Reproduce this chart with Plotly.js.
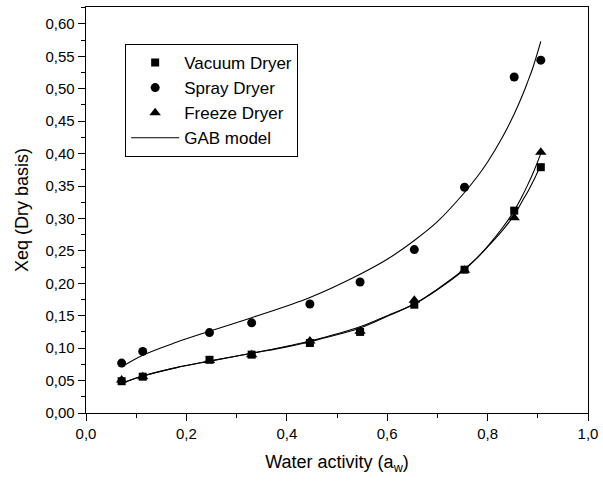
<!DOCTYPE html>
<html>
<head>
<meta charset="utf-8">
<script src="https://cdn.plot.ly/plotly-3.0.1.min.js"></script>
<style>html,body{margin:0;padding:0;background:#fff;}#chart{width:603px;height:481px;}</style>
</head>
<body>
<div id="chart"></div>
<script>
// Measured points (water activity vs equilibrium moisture, dry basis)
const aw = [0.071, 0.113, 0.246, 0.330, 0.446, 0.546, 0.654, 0.754, 0.853, 0.906];
const vacuum = [0.049, 0.056, 0.082, 0.090, 0.108, 0.125, 0.167, 0.221, 0.312, 0.379];
const spray = [0.077, 0.095, 0.124, 0.139, 0.168, 0.202, 0.252, 0.348, 0.518, 0.544];
const freeze = [0.051, 0.056, 0.081, 0.090, 0.111, 0.126, 0.174, 0.220, 0.301, 0.402];

// GAB model curves
const gabAw = [0.071, 0.113, 0.18, 0.246, 0.33, 0.40, 0.446, 0.546, 0.60, 0.654, 0.70, 0.754, 0.78, 0.80, 0.83, 0.853, 0.87, 0.88, 0.89, 0.906];
const gabSpray = [0.071, 0.089, 0.109, 0.126, 0.147, 0.165, 0.178, 0.214, 0.237, 0.266, 0.295, 0.340, 0.365, 0.387, 0.426, 0.461, 0.491, 0.511, 0.532, 0.573];
const gabVacuum = [0.046, 0.057, 0.070, 0.080, 0.092, 0.103, 0.111, 0.133, 0.150, 0.168, 0.191, 0.222, 0.240, 0.256, 0.282, 0.305, 0.328, 0.341, 0.356, 0.382];
const gabFreeze = [0.046, 0.057, 0.070, 0.080, 0.092, 0.102, 0.110, 0.131, 0.149, 0.168, 0.190, 0.221, 0.240, 0.257, 0.286, 0.312, 0.336, 0.352, 0.369, 0.400];

const xTitle = 'Water activity (a<sub>w</sub>)';
const yTitle = 'Xeq (Dry basis)';

const F = 'Liberation Sans, Arial, sans-serif';

const curveLine = {color: '#000', width: 1.1, shape: 'spline', smoothing: 1};

const traces = [
  {x: aw, y: vacuum, mode: 'markers', name: 'Vacuum Dryer',
   marker: {symbol: 'square', size: 8, color: '#000'}},
  {x: aw, y: spray, mode: 'markers', name: 'Spray Dryer',
   marker: {symbol: 'circle', size: 9, color: '#000'}},
  {x: aw, y: freeze, mode: 'markers', name: 'Freeze Dryer',
   marker: {symbol: 'triangle-up', size: 10, color: '#000'}},
  {x: gabAw, y: gabSpray, mode: 'lines', name: 'GAB model', line: curveLine},
  {x: gabAw, y: gabVacuum, mode: 'lines', name: 'GAB model', showlegend: false, line: curveLine},
  {x: gabAw, y: gabFreeze, mode: 'lines', name: 'GAB model', showlegend: false, line: curveLine}
];

const axisCommon = {
  showgrid: false, zeroline: false, showline: true, linecolor: '#000', linewidth: 1.3,
  mirror: true, ticks: 'outside', ticklen: 7, tickwidth: 1, tickcolor: '#000',
  tickfont: {family: F, size: 15, color: '#000'}
};

const layout = {
  width: 603, height: 481,
  margin: {l: 86, r: 15, t: 7, b: 68},
  paper_bgcolor: '#fff', plot_bgcolor: '#fff',
  separators: ',.',
  showlegend: true,
  font: {family: F, color: '#000'},
  xaxis: Object.assign({}, axisCommon, {
    range: [0, 1.0], dtick: 0.2, tick0: 0, tickformat: '.1f',
    minor: {dtick: 0.1, ticks: 'outside', ticklen: 4, tickcolor: '#000'},
    title: {text: xTitle, font: {family: F, size: 18, color: '#000'}, standoff: 14}
  }),
  yaxis: Object.assign({}, axisCommon, {
    range: [0, 0.626], dtick: 0.05, tick0: 0, tickformat: '.2f',
    minor: {dtick: 0.025, ticks: 'outside', ticklen: 4, tickcolor: '#000'},
    title: {text: yTitle, font: {family: F, size: 18, color: '#000'}, standoff: 12}
  }),
  legend: {
    x: 0.078, y: 0.909, xanchor: 'left', yanchor: 'top',
    bgcolor: '#fff', bordercolor: '#000', borderwidth: 1,
    font: {family: F, size: 17, color: '#000'},
    itemwidth: 48
  }
};

Plotly.newPlot('chart', traces, layout, {staticPlot: true, displayModeBar: false});
</script>
</body>
</html>
